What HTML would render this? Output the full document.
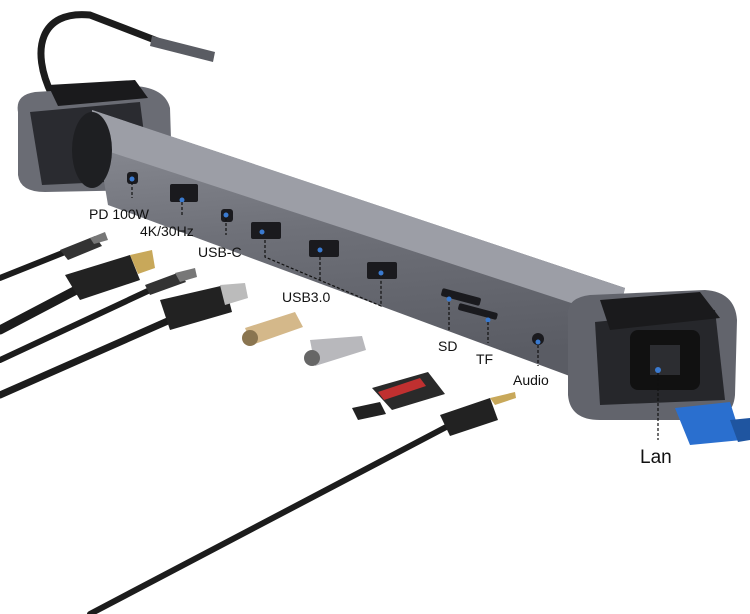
<!DOCTYPE html>
<html><head><style>
body{margin:0;background:#fff;}
svg{display:block}
text{font-family:"Liberation Sans",sans-serif;fill:#111}
</style></head><body>
<svg width="750" height="614" viewBox="0 0 750 614" xmlns="http://www.w3.org/2000/svg">
<defs>
<linearGradient id="bar" x1="0" y1="0" x2="0.15" y2="1">
<stop offset="0" stop-color="#8e9098"/><stop offset="0.5" stop-color="#6e7078"/><stop offset="1" stop-color="#5a5c64"/>
</linearGradient>
</defs>
<!-- top cable -->
<path d="M52 95 C30 50 40 10 90 15 L160 42" stroke="#1c1c1c" stroke-width="7" fill="none"/>
<path d="M152 36 L215 52 L213 62 L150 46 Z" fill="#5a5c63"/>
<!-- left bracket -->
<path d="M18 112 Q15 95 35 92 L135 86 Q165 88 170 108 L172 170 Q170 190 150 190 L45 192 Q20 192 18 175 Z" fill="#6a6c74"/>
<path d="M30 112 L140 102 L150 180 L42 185 Z" fill="#2a2b30"/>
<path d="M48 85 L135 80 L148 98 L58 106 Z" fill="#1a1a1c"/>
<!-- bar -->
<path d="M92 110 L625 288 L612 340 L575 378 L108 205 Z" fill="url(#bar)"/>
<path d="M92 110 L625 288 L617 318 L98 148 Z" fill="#9c9ea6"/>
<ellipse cx="92" cy="150" rx="20" ry="38" fill="#1e1f22"/>
<!-- right bracket -->
<path d="M568 318 Q565 298 590 295 L705 290 Q735 292 737 320 L735 395 Q733 420 705 420 L600 420 Q570 420 568 395 Z" fill="#62646c"/>
<path d="M595 322 L715 310 L725 400 L600 405 Z" fill="#26272b"/>
<path d="M600 300 L700 292 L720 318 L610 330 Z" fill="#1a1a1c"/>
<rect x="630" y="330" width="70" height="60" rx="8" fill="#111"/>
<rect x="650" y="345" width="30" height="30" fill="#2c2d31"/>
<circle cx="658" cy="370" r="3" fill="#3a7ad0"/>
<!-- ports -->
<g fill="#1a1a1e">
<rect x="127" y="172" width="11" height="12" rx="3"/>
<rect x="170" y="184" width="28" height="18" rx="2"/>
<rect x="221" y="209" width="12" height="13" rx="3"/>
<rect x="251" y="222" width="30" height="17" rx="2"/>
<rect x="309" y="240" width="30" height="17" rx="2"/>
<rect x="367" y="262" width="30" height="17" rx="2"/>
<rect x="441" y="293" width="40" height="8" rx="2" transform="rotate(15 461 297)"/>
<rect x="458" y="308" width="40" height="7" rx="2" transform="rotate(15 478 311)"/>
<circle cx="538" cy="339" r="6"/>
</g>
<g fill="#3a7ad0">
<circle cx="132" cy="179" r="2.5"/><circle cx="182" cy="200" r="2.5"/><circle cx="226" cy="215" r="2.5"/>
<circle cx="262" cy="232" r="2.5"/><circle cx="320" cy="250" r="2.5"/><circle cx="381" cy="273" r="2.5"/>
<circle cx="449" cy="299" r="2.5"/><circle cx="488" cy="320" r="2.5"/><circle cx="538" cy="342" r="2.5"/>
</g>
<!-- dashed leaders -->
<g stroke="#111" stroke-width="1.2" stroke-dasharray="3,2" fill="none">
<path d="M132 182 V198"/><path d="M182 202 V215"/><path d="M226 218 V235"/>
<path d="M265 240 V257 L381 306 V280"/><path d="M320 257 V280"/>
<path d="M449 302 V330"/><path d="M488 322 V343"/><path d="M538 345 V366"/><path d="M658 373 V440"/>
</g>
<!-- labels -->
<text x="89" y="219" font-size="14">PD 100W</text>
<text x="140" y="236" font-size="14">4K/30Hz</text>
<text x="198" y="257" font-size="14">USB-C</text>
<text x="282" y="302" font-size="14">USB3.0</text>
<text x="438" y="351" font-size="14">SD</text>
<text x="476" y="364" font-size="14">TF</text>
<text x="513" y="385" font-size="14">Audio</text>
<text x="640" y="463" font-size="19">Lan</text>
<!-- cables left -->
<g stroke="#1c1c1c" fill="none" stroke-linecap="round">
<path d="M0 278 L70 250" stroke-width="6"/>
<path d="M0 330 L80 288" stroke-width="9"/>
<path d="M0 360 L150 290" stroke-width="6"/>
<path d="M0 395 L170 320" stroke-width="7"/>
<path d="M90 614 L450 425" stroke-width="6"/>
</g>
<path d="M60 250 L95 236 L102 246 L68 260 Z" fill="#333"/>
<path d="M90 238 L105 232 L108 240 L94 244 Z" fill="#777"/>
<path d="M65 275 L130 255 L140 280 L80 300 Z" fill="#222"/>
<path d="M130 255 L152 250 L155 268 L138 274 Z" fill="#c8a85a"/>
<path d="M145 285 L180 272 L186 282 L150 295 Z" fill="#333"/>
<path d="M175 273 L195 268 L197 277 L180 282 Z" fill="#777"/>
<path d="M160 300 L225 285 L232 312 L170 330 Z" fill="#222"/>
<path d="M220 285 L245 283 L248 298 L225 305 Z" fill="#bbb"/>
<path d="M440 415 L490 398 L498 420 L450 436 Z" fill="#222"/>
<path d="M490 398 L515 392 L516 398 L495 405 Z" fill="#c8a85a"/>
<!-- usb sticks -->
<path d="M245 328 L295 312 L303 327 L252 345 Z" fill="#d4b88a"/>
<circle cx="250" cy="338" r="8" fill="#8a7550"/>
<path d="M310 340 L362 336 L366 350 L315 366 Z" fill="#b8b8bc"/>
<circle cx="312" cy="358" r="8" fill="#666"/>
<!-- sd cards -->
<path d="M372 388 L428 372 L445 394 L392 410 Z" fill="#2a2a2a"/>
<path d="M378 392 L420 378 L426 386 L384 400 Z" fill="#c03030"/>
<path d="M352 408 L380 402 L386 414 L358 420 Z" fill="#222"/>
<!-- lan cable -->
<path d="M675 408 L730 402 L742 440 L690 445 Z" fill="#2a6fcf"/>
<path d="M730 420 L750 418 L750 440 L738 442 Z" fill="#1f55a0"/>
</svg>
</body></html>
